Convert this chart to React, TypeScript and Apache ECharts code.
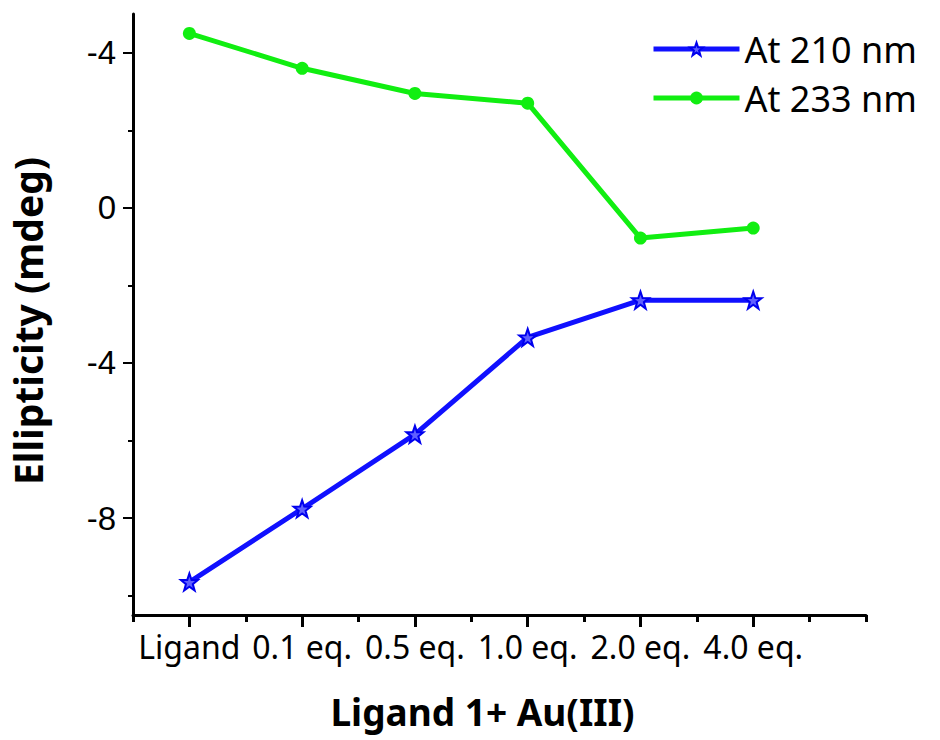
import React, { useEffect, useRef } from "react";
import * as echarts from "echarts";

const categories = ["Ligand", "0.1 eq.", "0.5 eq.", "1.0 eq.", "2.0 eq.", "4.0 eq."];
const categoryPositions = [1, 2, 3, 4, 5, 6];
const at210 = [-9.65, -7.76, -5.84, -3.34, -2.38, -2.38];
const at233 = [4.5, 3.6, 2.95, 2.7, -0.78, -0.52];
const seriesNames = ["At 210 nm", "At 233 nm"];
const yMajorTicks = [-8, -4, 0, 4];
const yMajorLabels = ["-8", "-4", "0", "-4"];
const yMinorTicks = [-10, -6, -2, 2];
const xMinorTicks = [0.5, 1.5, 2.5, 3.5, 4.5, 5.5, 6.5, 7];

const STAR =
  "path://M100,0 L123.5,67.6 L195.1,69.1 L138,112.4 L158.8,180.9 L100,140 L41.2,180.9 L62,112.4 L4.9,69.1 L76.5,67.6 Z";

export default function App() {
  const ref = useRef<HTMLDivElement>(null);
  useEffect(() => {
    if (!ref.current) return;
    const chart = echarts.init(ref.current, null, { renderer: "svg" });
    const xLabel = (v: number) => {
      const i = categoryPositions.indexOf(v);
      return i >= 0 ? categories[i] : "";
    };
    const yLabel = (v: number) => {
      const i = yMajorTicks.indexOf(v);
      return i >= 0 ? yMajorLabels[i] : "";
    };
    const common = { min: 0.5, max: 7, type: "value" as const };
    const ycommon = { min: -10.5, max: 5, type: "value" as const };
    chart.setOption({
      animation: false,
      backgroundColor: "#ffffff",
      grid: { left: 132, right: 74, top: 14, bottom: 125, containLabel: false },
      legend: {
        orient: "vertical",
        left: 646,
        top: 21,
        itemWidth: 86,
        itemHeight: 16,
        itemGap: 3,
        data: seriesNames,
        lineStyle: { width: 5 },
        textStyle: {
          fontFamily: "Noto Sans",
          fontSize: 36,
          lineHeight: 46,
          color: "#000",
        },
      },
      xAxis: [
        {
          ...common,
          position: "bottom",
          name: "Ligand 1+ Au(III)",
          nameLocation: "middle",
          nameGap: 78,
          nameTextStyle: {
            fontFamily: "Noto Sans",
            fontWeight: "bold",
            fontSize: 37,
            color: "#000",
            padding: [0, 34, 0, 0],
          },
          splitLine: { show: false },
          axisLine: { show: true, onZero: false, lineStyle: { color: "#000", width: 3 } },
          axisTick: {
            show: true,
            length: 12,
            customValues: categoryPositions,
            lineStyle: { color: "#000", width: 3 },
          },
          axisLabel: {
            show: true,
            customValues: categoryPositions,
            formatter: xLabel,
            margin: 15,
            fontFamily: "Noto Sans",
            fontSize: 32,
            color: "#000",
          },
        },
        {
          ...common,
          position: "bottom",
          splitLine: { show: false },
          axisLine: { show: false, onZero: false },
          axisTick: {
            show: true,
            length: 7,
            customValues: xMinorTicks,
            lineStyle: { color: "#000", width: 3 },
          },
          axisLabel: { show: false },
        },
      ],
      yAxis: [
        {
          ...ycommon,
          position: "left",
          name: "Ellipticity (mdeg)",
          nameLocation: "middle",
          nameGap: 86,
          nameRotate: 90,
          nameTextStyle: {
            fontFamily: "Noto Sans",
            fontWeight: "bold",
            fontSize: 39,
            color: "#000",
            padding: [0, 13, 0, 0],
          },
          splitLine: { show: false },
          axisLine: { show: true, onZero: false, lineStyle: { color: "#000", width: 3 } },
          axisTick: {
            show: true,
            length: 10,
            customValues: yMajorTicks,
            lineStyle: { color: "#000", width: 2 },
          },
          axisLabel: {
            show: true,
            customValues: yMajorTicks,
            formatter: yLabel,
            margin: 17,
            fontFamily: "Liberation Sans",
            fontSize: 33,
            color: "#000",
          },
        },
        {
          ...ycommon,
          position: "left",
          splitLine: { show: false },
          axisLine: { show: false, onZero: false },
          axisTick: {
            show: true,
            length: 5,
            customValues: yMinorTicks,
            lineStyle: { color: "#000", width: 2 },
          },
          axisLabel: { show: false },
        },
      ],
      series: [
        {
          name: seriesNames[0],
          type: "line",
          xAxisIndex: 0,
          yAxisIndex: 0,
          data: categoryPositions.map((x, i) => [x, at210[i]]),
          symbol: STAR,
          symbolSize: 17,
          lineStyle: { color: "#1010ff", width: 5 },
          itemStyle: { color: "#6060ff", borderColor: "#0000ee", borderWidth: 2 },
        },
        {
          name: seriesNames[1],
          type: "line",
          xAxisIndex: 0,
          yAxisIndex: 0,
          data: categoryPositions.map((x, i) => [x, at233[i]]),
          symbol: "circle",
          symbolSize: 13,
          lineStyle: { color: "#11ee11", width: 5 },
          itemStyle: { color: "#11ee11", borderWidth: 0 },
        },
      ],
    });
    return () => chart.dispose();
  }, []);
  return (
    <div
      ref={ref}
      style={{ position: "absolute", left: 0, top: 0, width: 940, height: 740 }}
    />
  );
}
